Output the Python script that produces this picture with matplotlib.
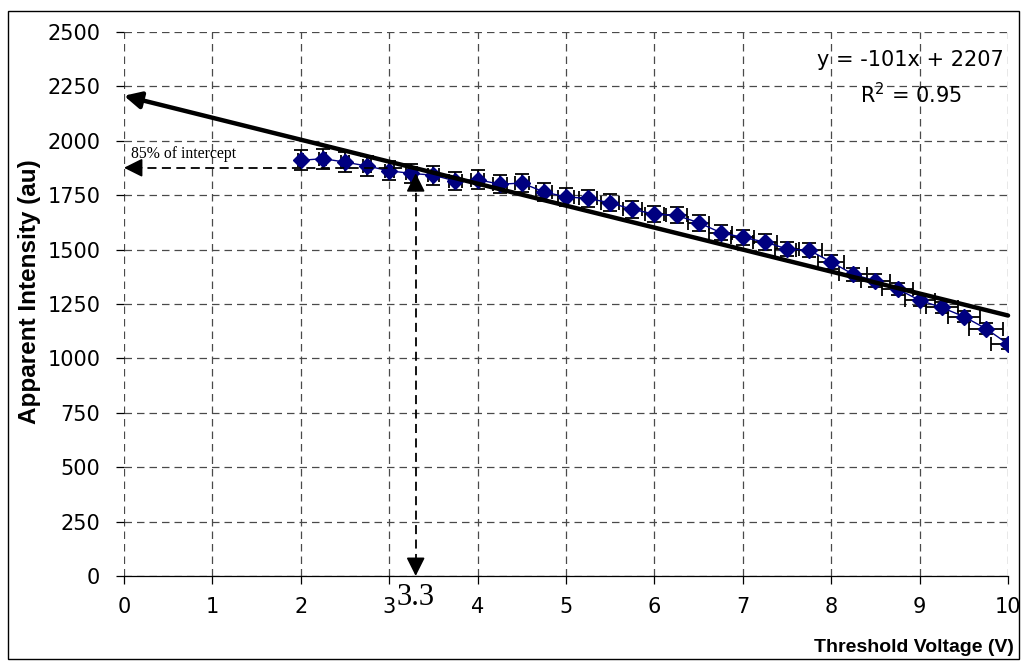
import numpy as np
import matplotlib.pyplot as plt
from matplotlib.patches import Rectangle

# dados
voltagem = [2.0, 2.25, 2.5, 2.75, 3.0, 3.25, 3.5, 3.75, 4.0, 4.25, 4.5,
            4.75, 5.0, 5.25, 5.5, 5.75, 6.0, 6.25, 6.5, 6.75, 7.0, 7.25,
            7.5, 7.75, 8.0, 8.25, 8.5, 8.75, 9.0, 9.25, 9.5, 9.75, 10.0]
intensidade = [1910, 1918, 1902, 1884, 1862, 1850, 1842, 1815, 1822, 1800, 1806,
               1765, 1742, 1735, 1715, 1685, 1663, 1657, 1624, 1578, 1556, 1535,
               1503, 1497, 1443, 1386, 1356, 1319, 1267, 1234, 1192, 1137, 1066]
erro_y = [46, 46, 45, 45, 44, 44, 43, 43, 42, 42, 41,
          41, 40, 40, 39, 39, 38, 37, 37, 36, 35, 35,
          34, 33, 32, 31, 30, 29, 28, 27, 26, 25, 24]
erro_x = [0.03, 0.04, 0.04, 0.05, 0.05, 0.06, 0.06, 0.07, 0.07, 0.08, 0.08,
          0.09, 0.09, 0.10, 0.10, 0.11, 0.11, 0.12, 0.12, 0.13, 0.13, 0.14,
          0.14, 0.15, 0.15, 0.16, 0.16, 0.17, 0.17, 0.18, 0.18, 0.19, 0.19]

inclinacao = -101
intercepto = 2207
limiar = 3.3
nivel_85 = 0.85 * intercepto

plt.rcParams['font.family'] = ['DejaVu Sans']

fig = plt.figure(figsize=(10.21, 6.62), dpi=100)
ax = fig.add_axes([0.1214, 0.1299, 0.8659, 0.8218])

# borda externa do grafico
fig.patches.append(Rectangle((0.008, 0.004), 0.990, 0.979, transform=fig.transFigure,
                             fill=False, edgecolor='black', linewidth=1.0))

ax.set_xlim(0, 10)
ax.set_ylim(0, 2500)
ax.set_xticks(range(0, 11))
ax.set_yticks(range(0, 2501, 250))
ax.grid(True, color='#4a4a4a', linestyle=(0, (6, 4)), linewidth=0.9)
ax.set_axisbelow(True)
for lado in ['top', 'right', 'left']:
    ax.spines[lado].set_visible(False)
ax.spines['bottom'].set_linewidth(0.9)
ax.tick_params(axis='both', labelsize=15, length=6, width=0.9, direction='out')
ax.tick_params(axis='x', pad=9)
ax.tick_params(axis='y', pad=11)

ax.errorbar(voltagem, intensidade, yerr=erro_y, xerr=erro_x, fmt='none',
            ecolor='black', elinewidth=1.3, capsize=5, capthick=1.3, zorder=3)
ax.plot(voltagem, intensidade, color='#000080', linewidth=1.0, marker='D',
        markersize=8, markerfacecolor='#000080', markeredgecolor='#000080', zorder=4)

# reta de ajuste com seta no eixo y
x_fit = np.array([0.0, 10.0])
y_fit = inclinacao * x_fit + intercepto
ax.annotate('', xy=(0, y_fit[0]), xytext=(10, y_fit[1]),
            arrowprops=dict(arrowstyle='-|>', color='black', lw=3.2,
                            mutation_scale=25, shrinkA=0, shrinkB=0), zorder=5)

# linhas tracejadas do limiar, pontas desenhadas a parte (solidas)
topo = nivel_85 - 25
ax.plot([0.1, limiar], [nivel_85, nivel_85], color='black', lw=1.3,
        linestyle=(0, (5, 3)), zorder=5)
ax.plot([limiar, limiar], [60, topo - 60], color='black', lw=1.3,
        linestyle=(0, (5, 3)), zorder=5)
seta = dict(arrowstyle='-|>', color='black', lw=1.3, mutation_scale=28,
            shrinkA=0, shrinkB=0)
ax.annotate('', xy=(0, nivel_85), xytext=(0.2, nivel_85), arrowprops=seta, zorder=6)
ax.annotate('', xy=(limiar, 0), xytext=(limiar, 80), arrowprops=seta, zorder=6)
ax.annotate('', xy=(limiar, topo), xytext=(limiar, topo - 80), arrowprops=seta, zorder=6)

ax.text(0.08, 1922, '85% of intercept', family='Liberation Serif', fontsize=11.3)
ax.text(limiar, -30, '3.3', family='Liberation Serif', fontsize=22, ha='center', va='top')

ax.text(8.9, 2371, 'y = -101x + 2207', fontsize=15, ha='center', va='center')
ax.text(8.9, 2210, 'R$^2$ = 0.95', fontsize=15, ha='center', va='center')

fig.text(30 / 1021, 1 - 292 / 662, 'Apparent Intensity (au)', family='Liberation Sans',
         fontsize=17.5, fontweight='bold', rotation=90, ha='center', va='center')
fig.text(0.993, 0.015, 'Threshold Voltage (V)', family='Liberation Sans', fontsize=14,
         fontweight='bold', ha='right', va='baseline')

fig.savefig('out.png', dpi=100)
